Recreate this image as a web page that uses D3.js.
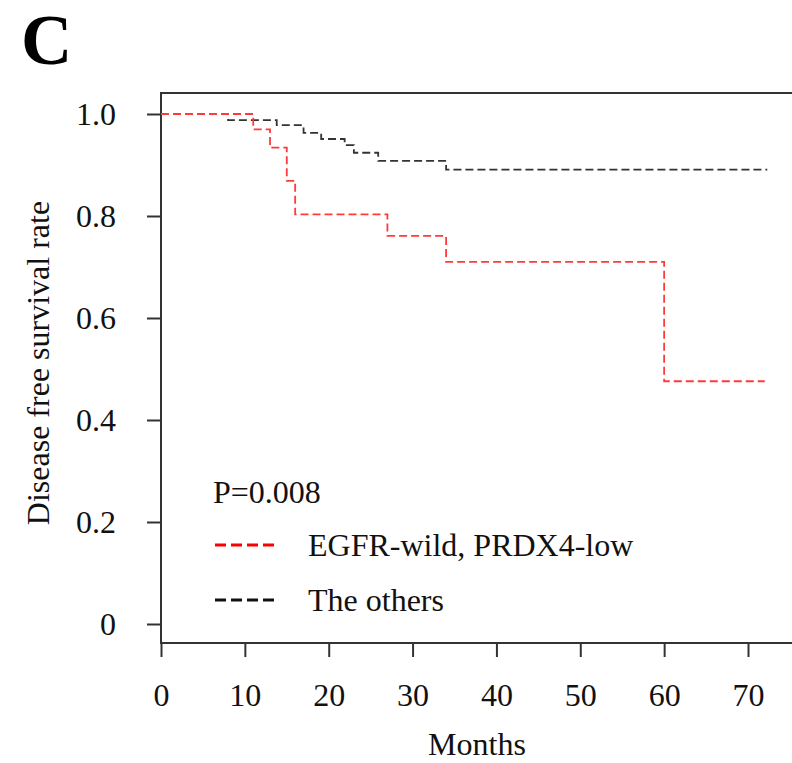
<!DOCTYPE html>
<html>
<head>
<meta charset="utf-8">
<script src="https://cdn.jsdelivr.net/npm/d3@7"></script>
<style>
  body { margin: 0; background: #fff; }
  svg text { font-family: "Liberation Serif", "Times New Roman", serif; }
</style>
</head>
<body>
<svg id="km" width="792" height="763"></svg>
<script>
// step points: [month, survival] (value holds from that month onward)
var redSteps = [[0, 1.0], [11, 0.970], [13, 0.934], [15, 0.869], [16, 0.803], [27, 0.761], [34, 0.710], [60, 0.476], [72, 0.476]];
var blackSteps = [[0, 1.0], [8, 0.988], [13.8, 0.978], [17, 0.963], [19.1, 0.951], [21.9, 0.939], [23, 0.924], [25.9, 0.908], [34, 0.891], [72.3, 0.891]];
var xTicks = [0, 10, 20, 30, 40, 50, 60, 70];
var yTicks = [0, 0.2, 0.4, 0.6, 0.8, 1.0];
var legendLabels = ["EGFR-wild, PRDX4-low", "The others"];
var pValue = "P=0.008";

var svg = d3.select("#km"),
    margin = {top: 93, left: 161},
    plotBottom = 643;

var x = d3.scaleLinear().domain([0, 70]).range([161, 748]);
var y = d3.scaleLinear().domain([0, 1]).range([624, 114]);

// panel letter
svg.append("text")
    .attr("x", 21)
    .attr("y", 64)
    .style("font-size", "71px")
    .style("font-weight", "bold")
    .text("C");

// box (right side runs off the picture)
svg.append("path")
    .attr("d", "M800," + margin.top + "H" + margin.left + "V" + plotBottom + "H800")
    .attr("fill", "none")
    .attr("stroke", "#333")
    .attr("stroke-width", 2);

// y axis
var yAxis = svg.append("g")
    .attr("transform", "translate(" + margin.left + ",0)")
    .call(d3.axisLeft(y).tickValues(yTicks).tickSize(14).tickPadding(31)
        .tickFormat(function(d) { return d === 0 ? "0" : d3.format(".1f")(d); }));
yAxis.select(".domain").remove();
yAxis.selectAll("line").attr("stroke", "#333").attr("stroke-width", 2);
yAxis.selectAll("text").style("font-size", "32px").attr("fill", "#111").attr("font-family", null);

// x axis
var xAxis = svg.append("g")
    .attr("transform", "translate(0," + plotBottom + ")")
    .call(d3.axisBottom(x).tickValues(xTicks).tickSize(14).tickPadding(26));
xAxis.select(".domain").remove();
xAxis.selectAll("line").attr("stroke", "#333").attr("stroke-width", 2);
xAxis.selectAll("text").style("font-size", "32px").attr("fill", "#111").attr("font-family", null);

// axis titles
svg.append("text")
    .attr("x", 477)
    .attr("y", 755)
    .attr("text-anchor", "middle")
    .style("font-size", "32px")
    .attr("fill", "#111")
    .text("Months");

svg.append("text")
    .attr("transform", "translate(49,363)rotate(-90)")
    .attr("text-anchor", "middle")
    .style("font-size", "32px")
    .attr("fill", "#111")
    .text("Disease free survival rate");

// curves
var line = d3.line()
    .x(function(d) { return x(d[0]); })
    .y(function(d) { return y(d[1]); })
    .curve(d3.curveStepAfter);

svg.append("path")
    .datum(blackSteps)
    .attr("d", line)
    .attr("fill", "none")
    .attr("stroke", "#333")
    .attr("stroke-width", 1.8)
    .attr("stroke-dasharray", "8,4");

svg.append("path")
    .datum(redSteps)
    .attr("d", line)
    .attr("fill", "none")
    .attr("stroke", "#ff3a3a")
    .attr("stroke-width", 1.8)
    .attr("stroke-dasharray", "8,4");

// legend
svg.append("text")
    .attr("x", 213)
    .attr("y", 503)
    .style("font-size", "32px")
    .attr("fill", "#111")
    .text(pValue);

var legendColors = ["#ff0000", "#111"];
var leg = svg.selectAll(".legend")
    .data(legendLabels)
    .enter()
    .append("g")
    .attr("class", "legend")
    .attr("transform", function(d, i) { return "translate(0," + (545 + i * 55) + ")"; });

leg.append("line")
    .attr("x1", 215)
    .attr("x2", 276)
    .attr("y1", 0)
    .attr("y2", 0)
    .attr("stroke", function(d, i) { return legendColors[i]; })
    .attr("stroke-width", 3)
    .attr("stroke-dasharray", "11,5");

leg.append("text")
    .attr("x", 308)
    .attr("y", 11)
    .style("font-size", "32px")
    .attr("fill", "#111")
    .text(function(d) { return d; });
</script>
</body>
</html>
